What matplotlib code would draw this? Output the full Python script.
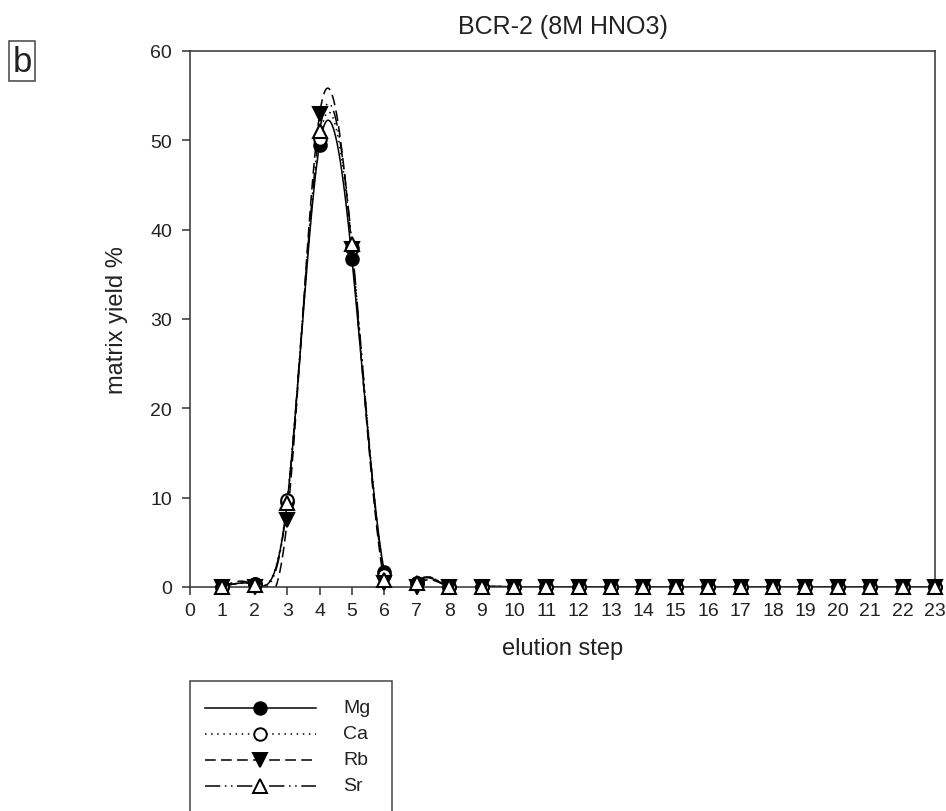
import numpy as np
import matplotlib
matplotlib.use("Agg")
import matplotlib.pyplot as plt
from matplotlib.lines import Line2D
from matplotlib.patches import Rectangle

plt.rcParams["font.family"] = ["Liberation Sans", "DejaVu Sans"]

# ---- data -------------------------------------------------------------
steps = list(range(1, 24))
elements = ["Mg", "Ca", "Rb", "Sr"]
mg = [0.05, 0.3, 9.5, 49.5, 36.7, 1.7, 0.5] + [0.0] * 16
ca = [0.05, 0.3, 9.7, 50.1, 38.0, 1.3, 0.5] + [0.0] * 16
rb = [0.0, 0.0, 7.5, 52.9, 37.8, 0.5, 0.0] + [0.0] * 16
sr = [0.05, 0.2, 9.4, 51.0, 38.4, 0.8, 0.4] + [0.0] * 16
series = [mg, ca, rb, sr]

title = "BCR-2 (8M HNO3)"
xlabel = "elution step"
ylabel = "matrix yield %"
panel = "b"


def natural_spline(x, y, xs):
    """Natural cubic spline through (x, y), evaluated at xs."""
    x = np.asarray(x, float)
    y = np.asarray(y, float)
    n = len(x)
    h = np.diff(x)
    A = np.zeros((n, n))
    r = np.zeros(n)
    A[0, 0] = A[-1, -1] = 1.0
    for i in range(1, n - 1):
        A[i, i - 1] = h[i - 1]
        A[i, i] = 2 * (h[i - 1] + h[i])
        A[i, i + 1] = h[i]
        r[i] = 6 * ((y[i + 1] - y[i]) / h[i] - (y[i] - y[i - 1]) / h[i - 1])
    m = np.linalg.solve(A, r)
    idx = np.clip(np.searchsorted(x, xs) - 1, 0, n - 2)
    x0, x1 = x[idx], x[idx + 1]
    hh = x1 - x0
    a = (x1 - xs) / hh
    b = (xs - x0) / hh
    return (a * y[idx] + b * y[idx + 1]
            + ((a ** 3 - a) * m[idx] + (b ** 3 - b) * m[idx + 1]) * hh ** 2 / 6)


styles = [
    dict(ls="-", marker="o", mfc="black", ms=9),
    dict(ls=(0, (1, 3)), marker="o", mfc="white", ms=9),
    dict(ls=(0, (7, 3.5)), marker="v", mfc="black", ms=10),
    dict(ls=(0, (10, 3, 1, 3, 1, 3)), marker="^", mfc="white", ms=10),
]

fig = plt.figure(figsize=(9.46, 8.12), dpi=100)
ax = fig.add_axes([190 / 946, 1 - 588 / 812, 745 / 946, 536 / 812])

xs = np.linspace(steps[0], steps[-1], 2000)
lw = 1.1
for vals, st in zip(series, styles):
    ys = natural_spline(steps, vals, xs)
    ax.plot(xs, ys, color="black", lw=lw, ls=st["ls"], zorder=2)
for vals, st in zip(series, styles):
    ax.plot(steps, vals, ls="none", marker=st["marker"], ms=st["ms"],
            mfc=st["mfc"], mec="black", mew=1.5, clip_on=False, zorder=3)

ax.set_xlim(0, 23)
ax.set_ylim(0, 60)
ax.set_xticks(range(0, 24))
ax.set_yticks(range(0, 61, 10))
for s in ax.spines.values():
    s.set_linewidth(1.1)
    s.set_color("#333333")
ax.tick_params(direction="out", length=6, width=1.1, color="#333333",
               labelsize=14, labelcolor="#222222")
ax.tick_params(axis="y", pad=7)
ax.tick_params(axis="x", pad=5)

ax.set_title(title, fontsize=18, color="#222222", pad=13)
ax.set_xlabel(xlabel, fontsize=17, color="#222222", labelpad=13)
ax.set_ylabel(ylabel, fontsize=17, color="#222222", labelpad=16)

# panel letter in a box
fig.text(22 / 946, 1 - 62 / 812, panel, fontsize=25, ha="center", va="center",
         color="#222222",
         bbox=dict(boxstyle="square,pad=0.1", fc="white", ec="#444444", lw=1.1))

# legend drawn in figure pixel coordinates; box runs off the bottom edge
W, H = 946, 812
fig.patches.append(Rectangle((190 / W, -0.05), 202 / W, (H - 682) / H + 0.05,
                             transform=fig.transFigure, fill=False,
                             ec="#444444", lw=1.1))
rows_y = [709, 735, 761, 787]
for name, st, yy in zip(elements, styles, rows_y):
    fy = 1 - yy / H
    fig.add_artist(Line2D([205 / W, 316 / W], [fy, fy], transform=fig.transFigure,
                          color="black", lw=lw, ls=st["ls"]))
    fig.add_artist(Line2D([260 / W], [fy], transform=fig.transFigure,
                          ls="none", marker=st["marker"], ms=st["ms"], mfc=st["mfc"],
                          mec="black", mew=1.4))
    fig.text(343 / W, fy, name, fontsize=14, va="center", ha="left",
             color="#222222")

fig.savefig("out.png", dpi=100, facecolor="white")
